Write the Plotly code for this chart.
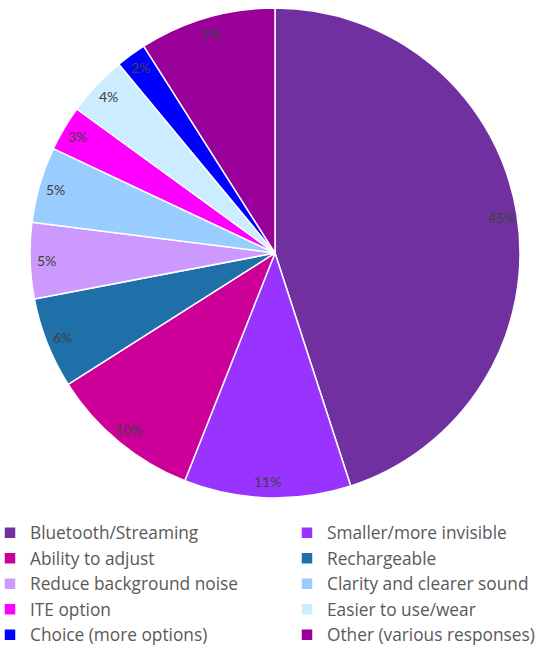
import math
import plotly.graph_objects as go

labels = ["Bluetooth/Streaming", "Smaller/more invisible", "Ability to adjust", "Rechargeable",
          "Reduce background noise", "Clarity and clearer sound", "ITE option",
          "Easier to use/wear", "Choice (more options)", "Other (various responses)"]
values = [45, 11, 10, 6, 5, 5, 3, 4, 2, 9]
colors = ["#7030A0", "#9933FF", "#CC0099", "#1F6FA8", "#CC99FF", "#99CCFF",
          "#FF00FF", "#CCECFF", "#0000FF", "#990099"]

W, H = 544, 648          # visible window
EXTRA = 56               # extra (clipped) room on the right so the legend fits two columns
B = 140                  # bottom margin reserved for the legend
PW, PH = W + EXTRA, H - B  # plot-area size
CX, CY, R = 275, 253, 245  # pixel layout of the pie

fig = go.Figure(go.Pie(
    labels=labels, values=values, sort=False, direction="clockwise", rotation=0,
    marker=dict(colors=colors, line=dict(color="white", width=1.5)),
    textinfo="none", hoverinfo="label+percent",
    domain=dict(x=[(CX - R) / PW, (CX + R) / PW], y=[1 - (CY + R) / PH, 1 - (CY - R) / PH]),
))

total = sum(values)
cum = 0
annotations = []
for v in values:
    mid = (cum + v / 2) / total * 2 * math.pi
    cum += v
    rr = R * 0.935
    px = CX + rr * math.sin(mid)
    py = CY - rr * math.cos(mid)
    annotations.append(dict(
        x=px / PW, y=1 - py / PH, xref="paper", yref="paper", showarrow=False,
        xanchor="center", yanchor="middle",
        text=f"{round(v / total * 100)}%",
        font=dict(family="Lato, Noto Sans, sans-serif", size=14, color="#404040"),
    ))

fig.update_layout(
    width=PW, height=H, margin=dict(l=0, r=0, t=0, b=B, autoexpand=False),
    paper_bgcolor="white", plot_bgcolor="white",
    annotations=annotations,
    showlegend=True,
    legend=dict(
        orientation="h", x=-10 / PW, xanchor="left", y=1 - 515 / PH, yanchor="top",
        entrywidth=252, entrywidthmode="pixels", traceorder="normal",
        font=dict(family="Open Sans, Noto Sans, sans-serif", size=17.3, color="#595959"),
        itemwidth=30, tracegroupgap=0, bgcolor="rgba(0,0,0,0)",
    ),
)

fig.write_html("out.html", config={"displayModeBar": False})
with open("out.html", encoding="utf-8") as f:
    html = f.read()
html = html.replace("<body>", '<body style="margin:0;overflow:hidden">', 1)
with open("out.html", "w", encoding="utf-8") as f:
    f.write(html)
